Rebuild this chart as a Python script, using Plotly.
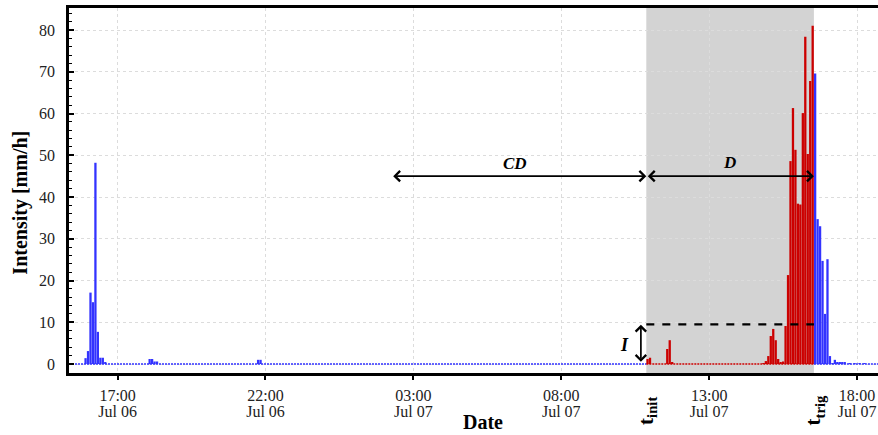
import plotly.graph_objects as go

# ---------------- data ----------------
blue_times = [
    "2020-07-06 15:55", "2020-07-06 16:00", "2020-07-06 16:05", "2020-07-06 16:10",
    "2020-07-06 16:15", "2020-07-06 16:20", "2020-07-06 16:25", "2020-07-06 16:30",
    "2020-07-06 16:35",
    "2020-07-06 18:05", "2020-07-06 18:10", "2020-07-06 18:15", "2020-07-06 18:20",
    "2020-07-06 21:45", "2020-07-06 21:50",
    "2020-07-07 16:35", "2020-07-07 16:40", "2020-07-07 16:45", "2020-07-07 16:50",
    "2020-07-07 16:55", "2020-07-07 17:00", "2020-07-07 17:05", "2020-07-07 17:10",
    "2020-07-07 17:15", "2020-07-07 17:20", "2020-07-07 17:25", "2020-07-07 17:30",
    "2020-07-07 17:35", "2020-07-07 17:45", "2020-07-07 17:55", "2020-07-07 18:05",
    "2020-07-07 18:15",
]
blue_vals = [
    1.4, 3.1, 17.1, 14.8, 48.2, 7.7, 1.5, 1.5, 0.4,
    1.2, 1.2, 0.6, 0.6,
    1.0, 1.0,
    69.6, 34.7, 33.0, 24.7, 12.0, 25.1, 1.9, 0.2,
    1.0, 0.3, 0.3, 0.3, 0.3, 0.1, 0.1, 0.1, 0.1,
]

red_times = [
    "2020-07-07 10:55", "2020-07-07 11:00", "2020-07-07 11:35", "2020-07-07 11:40",
    "2020-07-07 11:45",
    "2020-07-07 14:50", "2020-07-07 14:55", "2020-07-07 15:00", "2020-07-07 15:05",
    "2020-07-07 15:10", "2020-07-07 15:15", "2020-07-07 15:20", "2020-07-07 15:25",
    "2020-07-07 15:30", "2020-07-07 15:35", "2020-07-07 15:40", "2020-07-07 15:45",
    "2020-07-07 15:50", "2020-07-07 15:55", "2020-07-07 16:00", "2020-07-07 16:05",
    "2020-07-07 16:10", "2020-07-07 16:15", "2020-07-07 16:20", "2020-07-07 16:25",
    "2020-07-07 16:30",
]
red_vals = [
    1.2, 1.5, 3.6, 5.7, 0.3,
    0.2, 0.7, 1.9, 6.7, 8.4, 5.7, 1.2, 0.3, 0.6, 9.1, 21.3, 48.6,
    61.3, 51.3, 38.4, 38.2, 60.1, 78.4, 50.3, 67.8, 81.0,
]

x_start = "2020-07-06 15:21:24"
x_end = "2020-07-07 18:42:30"
t_init = "2020-07-07 10:52:30"
t_trig = "2020-07-07 16:32:30"
cd_start = "2020-07-07 02:16"
threshold = 9.5
arrow_level = 45

tick_vals = ["2020-07-06 17:00", "2020-07-06 22:00", "2020-07-07 03:00",
             "2020-07-07 08:00", "2020-07-07 13:00", "2020-07-07 18:00"]
tick_time_text = ["17:00", "22:00", "03:00", "08:00", "13:00", "18:00"]
tick_date_text = ["Jul 06", "Jul 06", "Jul 07", "Jul 07", "Jul 07", "Jul 07"]
y_ticks = [0, 10, 20, 30, 40, 50, 60, 70, 80]

BLUE = "#3333ff"
RED = "#cc0000"
FONT = "Liberation Serif"

fig = go.Figure()

# zero baselines (dotted)
for xs, col in [([x_start, t_init], BLUE), ([t_init, t_trig], RED), ([t_trig, x_end], BLUE)]:
    fig.add_trace(go.Scatter(x=xs, y=[0, 0], mode="lines",
                             line=dict(color=col, width=1.5, dash="2px,1px"),
                             hoverinfo="skip", showlegend=False))

bar_w = 5 * 60 * 1000 * 0.93
fig.add_trace(go.Bar(x=blue_times, y=blue_vals, marker=dict(color=BLUE, line=dict(width=0)),
                     width=bar_w, showlegend=False))
fig.add_trace(go.Bar(x=red_times, y=red_vals, marker=dict(color=RED, line=dict(width=0)),
                     width=bar_w, showlegend=False))
# invisible trace carrying the secondary (date-line) x axis
fig.add_trace(go.Scatter(x=[x_start, x_end], y=[None, None], xaxis="x2", yaxis="y",
                         mode="lines", hoverinfo="skip", showlegend=False))

# shaded window
fig.add_shape(type="rect", xref="x", yref="paper", x0=t_init, x1=t_trig, y0=0, y1=1,
              fillcolor="#d3d3d3", line=dict(width=0), layer="between")
# threshold dashed line
fig.add_shape(type="line", xref="x", yref="y", x0=t_init, x1=t_trig, y0=threshold, y1=threshold,
              line=dict(color="black", width=2.2, dash="8px,8px"), layer="above")

ann = []
arrow_common = dict(showarrow=True, text="", axref="x", ayref="y", xref="x", yref="y",
                    arrowhead=4, startarrowhead=4, arrowside="end+start",
                    arrowwidth=1.7, arrowsize=1.2, startarrowsize=1.2, arrowcolor="black",
                    standoff=0, startstandoff=0)
ann.append(dict(x=t_init, y=arrow_level, ax=cd_start, ay=arrow_level, **arrow_common))
ann.append(dict(x=t_trig, y=arrow_level, ax=t_init, ay=arrow_level, **arrow_common))
ann.append(dict(x="2020-07-07 10:41:30", y=threshold - 0.1, ax="2020-07-07 10:41:30", ay=0.15,
                **arrow_common))

bi = dict(family=FONT, size=17, color="black", weight="bold", style="italic")
ann.append(dict(x="2020-07-07 06:27", y=48.1, xref="x", yref="y", text="CD", showarrow=False, font=bi))
ann.append(dict(x="2020-07-07 13:42", y=48.3, xref="x", yref="y", text="D", showarrow=False, font=bi))
ann.append(dict(x="2020-07-07 10:09", y=4.6, xref="x", yref="y", text="I", showarrow=False,
                font=dict(bi, size=18)))

tfont = dict(family=FONT, size=21, color="black", weight="bold")
ann.append(dict(x=t_init, y=-0.103, xref="x", yref="paper", text="t<sub>init</sub>",
                showarrow=False, textangle=-90, font=tfont, xanchor="center", yanchor="middle"))
ann.append(dict(x=t_trig, y=-0.103, xref="x", yref="paper", text="t<sub>trig</sub>",
                showarrow=False, textangle=-90, font=tfont, xanchor="center", yanchor="middle"))

ann.append(dict(x=0.512, y=-0.134, xref="paper", yref="paper", text="Date", showarrow=False,
                font=dict(family=FONT, size=20, color="black", weight="bold"),
                xanchor="center", yanchor="middle"))
ann.append(dict(x=-0.06, y=0.468, xref="paper", yref="paper", text="Intensity [mm/h]",
                showarrow=False, textangle=-90,
                font=dict(family=FONT, size=20, color="black", weight="bold"),
                xanchor="center", yanchor="middle"))

tickfont = dict(family=FONT, size=16, color="#222")
fig.update_layout(
    width=878, height=435,
    margin=dict(l=69, r=0, t=8, b=62),
    paper_bgcolor="white", plot_bgcolor="white",
    showlegend=False, barmode="overlay",
    font=dict(family=FONT, size=16, color="#222"),
    annotations=ann,
    xaxis=dict(type="date", range=[x_start, x_end], tickvals=tick_vals, ticktext=tick_time_text,
               showline=True, linewidth=2.5, linecolor="black", mirror=True,
               ticks="outside", ticklen=4, tickwidth=1.5, tickcolor="black",
               showgrid=True, gridcolor="#dcdcdc", griddash="dot", gridwidth=1,
               zeroline=False, tickfont=tickfont, ticklabelstandoff=2),
    xaxis2=dict(type="date", matches="x", overlaying="x", side="bottom", anchor="y",
                tickvals=tick_vals, ticktext=tick_date_text,
                showline=False, ticks="", showgrid=False, zeroline=False,
                tickfont=tickfont, ticklabelstandoff=27),
    yaxis=dict(range=[-2.156, 85.27], tickvals=y_ticks,
               showline=True, linewidth=2.5, linecolor="black", mirror=False,
               ticks="inside", ticklen=5, tickwidth=2, tickcolor="black",
               minor=dict(dtick=2, ticks="inside", ticklen=3, tickwidth=1, tickcolor="black",
                          showgrid=False),
               showgrid=True, gridcolor="#dcdcdc", griddash="dot", gridwidth=1,
               zeroline=False, tickfont=tickfont, ticklabelstandoff=8),
)

fig.write_html("out.html")
